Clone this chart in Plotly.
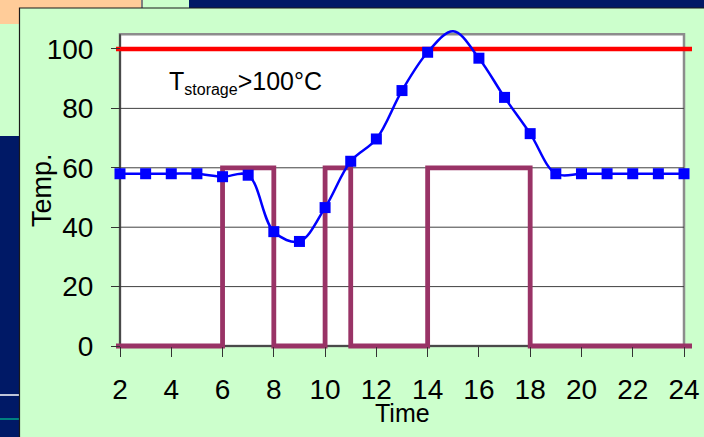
import plotly.graph_objects as go

# ---- data -------------------------------------------------------------
hours = list(range(2, 25))
temp = [58, 58, 58, 58, 57, 57.5, 38.5, 35.2, 46.6, 62.2, 69.7, 86.0,
        98.9, 106, 96.9, 83.7, 71.5, 58, 58, 58, 58, 58, 58]
unlogged_hours = [15]            # curve passes here, no marker drawn

pump_on = [(6, 8), (10, 11), (14, 18)]   # heater/pump running intervals
pump_level = 60
storage_limit = 100

x_ticks = list(range(2, 25, 2))
y_ticks = list(range(0, 101, 20))

# ---- page geometry -----------------------------------------------------
W, H = 704, 437
L, R, T, B = 116, 12, 26, 87
PW, PH = W - L - R, H - T - B

x_lo, x_hi = 1.844, 24.312
y_lo, y_hi = -1.347, 107.74
plot_top = 105

FONT = "Liberation Sans, Arial, sans-serif"
GREEN = "#CCFFCC"
NAVY = "#001966"


def fx(px):
    return (px - L) / PW


def fy(py):
    return (T + PH - py) / PH


fig = go.Figure()

# pump on/off step line
sx, sy = [x_lo], [0]
for a, b in pump_on:
    sx += [a, a, b, b]
    sy += [0, pump_level, pump_level, 0]
sx.append(x_hi)
sy.append(0)
fig.add_trace(go.Scatter(x=sx, y=sy, mode="lines",
                         line=dict(color="#993366", width=4.8),
                         hoverinfo="skip", showlegend=False))

# storage temperature limit
fig.add_trace(go.Scatter(x=[x_lo, x_hi], y=[storage_limit, storage_limit],
                         mode="lines", line=dict(color="#FF0000", width=4.5),
                         hoverinfo="skip", showlegend=False))

# storage temperature curve
fig.add_trace(go.Scatter(x=hours, y=temp, mode="lines",
                         line=dict(color="#0000FF", width=2.5, shape="spline",
                                   smoothing=1),
                         showlegend=False))
mk_x = [h for h in hours if h not in unlogged_hours]
mk_y = [t for h, t in zip(hours, temp) if h not in unlogged_hours]
fig.add_trace(go.Scatter(x=mk_x, y=mk_y, mode="markers",
                         marker=dict(symbol="square", size=11, color="#0000FF",
                                     line=dict(width=0)),
                         cliponaxis=False, showlegend=False))

shapes = []
# page backdrop pieces
shapes.append(dict(type="rect", xref="paper", yref="paper", layer="below",
                   x0=fx(-5), x1=fx(141), y0=fy(-5), y1=fy(24),
                   fillcolor="#FFCC99", line=dict(width=0)))
shapes.append(dict(type="rect", xref="paper", yref="paper", layer="below",
                   x0=fx(141), x1=fx(143), y0=fy(-5), y1=fy(8),
                   fillcolor="#808080", line=dict(width=0)))
shapes.append(dict(type="rect", xref="paper", yref="paper", layer="below",
                   x0=fx(189), x1=fx(710), y0=fy(-5), y1=fy(8),
                   fillcolor=NAVY, line=dict(width=0)))
shapes.append(dict(type="rect", xref="paper", yref="paper", layer="below",
                   x0=fx(-5), x1=fx(19.5), y0=fy(136), y1=fy(445),
                   fillcolor=NAVY, line=dict(width=0)))
shapes.append(dict(type="line", xref="paper", yref="paper", layer="below",
                   x0=fx(0), x1=fx(19), y0=fy(395), y1=fy(395),
                   line=dict(color="#FFFFFF", width=1.5)))
shapes.append(dict(type="line", xref="paper", yref="paper", layer="below",
                   x0=fx(0), x1=fx(19), y0=fy(419), y1=fy(419),
                   line=dict(color="#008080", width=2)))
# chart panel
shapes.append(dict(type="rect", xref="paper", yref="paper", layer="below",
                   x0=fx(19.5), x1=fx(712), y0=fy(8), y1=fy(446),
                   fillcolor=GREEN, line=dict(color="#1a1a1a", width=1.2)))

# plot area, gridlines and axis lines
shapes.append(dict(type="rect", xref="x", yref="y", layer="below",
                   x0=x_ticks[0], x1=x_ticks[-1], y0=0, y1=plot_top,
                   fillcolor="#FFFFFF", line=dict(color="#8C8C8C", width=2.5)))
for v in y_ticks[1:]:
    shapes.append(dict(type="line", xref="x", yref="y", layer="below",
                       x0=x_ticks[0], x1=x_ticks[-1], y0=v, y1=v,
                       line=dict(color="#404040", width=1)))
shapes.append(dict(type="line", xref="x", yref="y", layer="below",
                   x0=x_ticks[0], x1=x_ticks[0], y0=0, y1=plot_top,
                   line=dict(color="#333333", width=1.5)))
shapes.append(dict(type="line", xref="x", yref="y", layer="below",
                   x0=x_ticks[0], x1=x_ticks[-1], y0=0, y1=0,
                   line=dict(color="#333333", width=1.5)))

annotations = [
    dict(text="Temp.", xref="paper", yref="paper", x=fx(42), y=fy(190),
         xanchor="center", yanchor="middle", textangle=-90, showarrow=False,
         font=dict(family=FONT, size=27, color="#000000")),
    dict(text="Time", xref="paper", yref="paper", x=fx(402), y=fy(413),
         xanchor="center", yanchor="middle", showarrow=False,
         font=dict(family=FONT, size=25, color="#000000")),
    dict(text="T<sub><span style='font-size:16px'>storage</span></sub>>100°C",
         xref="paper", yref="paper",
         x=fx(167), y=fy(82), xanchor="left", yanchor="middle",
         showarrow=False, font=dict(family=FONT, size=25, color="#000000")),
]

axis_common = dict(ticks="outside", tickcolor="#333333", tickwidth=1,
                   showgrid=False, zeroline=False, showline=False,
                   automargin=False,
                   tickfont=dict(family=FONT, size=28, color="#000000"),
                   anchor="free", fixedrange=True)

fig.update_layout(
    width=W, height=H,
    margin=dict(l=L, r=R, t=T, b=B, pad=0, autoexpand=False),
    paper_bgcolor=GREEN, plot_bgcolor="rgba(0,0,0,0)",
    shapes=shapes, annotations=annotations,
    xaxis=dict(range=[x_lo, x_hi], tickvals=x_ticks, ticklen=10,
               position=fy(346), ticklabelstandoff=8, **axis_common),
    yaxis=dict(range=[y_lo, y_hi], tickvals=y_ticks, ticklen=9,
               position=fx(120), ticklabelstandoff=12, **axis_common),
    showlegend=False,
)

fig.write_html("out.html")
